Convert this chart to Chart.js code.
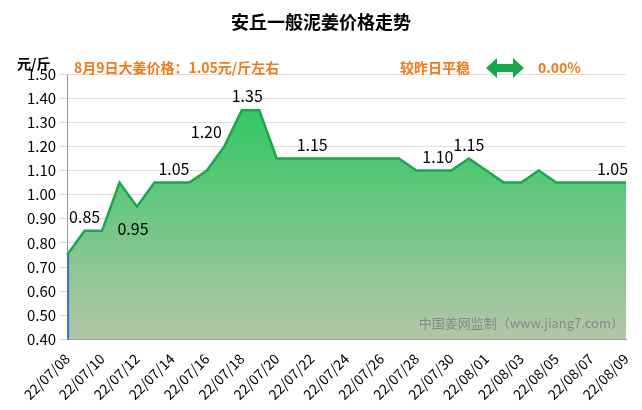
<!DOCTYPE html><html><head><meta charset="utf-8">
<script src="https://cdn.jsdelivr.net/npm/chart.js@4"></script>
<style>body{margin:0;background:#fff}#w{width:642px;height:410px;position:relative}</style></head><body>
<div id="w"><canvas id="c" width="642" height="410"></canvas></div>
<script>
const categories=["22/07/08","22/07/09","22/07/10","22/07/11","22/07/12","22/07/13","22/07/14","22/07/15","22/07/16","22/07/17","22/07/18","22/07/19","22/07/20","22/07/21","22/07/22","22/07/23","22/07/24","22/07/25","22/07/26","22/07/27","22/07/28","22/07/29","22/07/30","22/07/31","22/08/01","22/08/02","22/08/03","22/08/04","22/08/05","22/08/06","22/08/07","22/08/08","22/08/09"];
const prices=[0.75,0.85,0.85,1.05,0.95,1.05,1.05,1.05,1.10,1.20,1.35,1.35,1.15,1.15,1.15,1.15,1.15,1.15,1.15,1.15,1.10,1.10,1.10,1.15,1.10,1.05,1.05,1.10,1.05,1.05,1.05,1.05,1.05];
const labelIdx=[1,4,6,9,11,13,21,23,31];
const labelOff=[[0,-14],[-4,22],[2,-14],[-18,-14],[-12,-14],[18,-14],[4,-14],[0,-14],[4,-14]];
const deco={id:'deco',afterDatasetsDraw(ch){const x=ch.ctx,m=ch.getDatasetMeta(0),a=ch.chartArea;x.save();
x.strokeStyle='#3b6fd6';x.lineWidth=2;x.beginPath();x.moveTo(a.left+1,a.bottom);x.lineTo(a.left+1,m.data[0].y);x.stroke();
x.font='16px "Noto Sans CJK SC", sans-serif';x.fillStyle='#000';x.textAlign='center';x.textBaseline='middle';
labelIdx.forEach((i,k)=>{const p=m.data[i];x.fillText(prices[i].toFixed(2),p.x+labelOff[k][0],p.y+labelOff[k][1]);});
x.font='13px "Noto Sans CJK SC", sans-serif';x.fillStyle='#888';x.textAlign='right';x.fillText('中国姜网监制（www.jiang7.com）',a.right-2,a.bottom-16);
x.font='bold 18px "Noto Sans CJK SC", sans-serif';x.fillStyle='#000';x.textAlign='center';x.fillText('安丘一般泥姜价格走势',321,22);
x.font='bold 14px "Noto Sans CJK SC", sans-serif';x.textAlign='left';x.fillText('元/斤',17,64);
x.fillStyle='#f07a1a';x.fillText('8月9日大姜价格：1.05元/斤左右',74,68);x.fillText('较昨日平稳',400,68);x.fillText('0.00%',538,68);
x.fillStyle='#1aa64a';x.beginPath();x.moveTo(486,68);x.lineTo(497,58);x.lineTo(497,64);x.lineTo(513,64);x.lineTo(513,58);x.lineTo(524,68);x.lineTo(513,78);x.lineTo(513,72);x.lineTo(497,72);x.lineTo(497,78);x.closePath();x.fill();
x.restore();}};
new Chart(document.getElementById('c'),{type:'line',data:{labels:categories,datasets:[{data:prices,borderColor:'#17a84a',borderWidth:2.5,pointRadius:0,tension:0,fill:'start',
backgroundColor:(c)=>{const a=c.chart.chartArea;if(!a)return'#5c5';const g=c.chart.ctx.createLinearGradient(0,a.top,0,a.bottom);g.addColorStop(0,'#1ec75a');g.addColorStop(1,'#b4c6a8');return g;}}]},
options:{responsive:false,animation:false,layout:{padding:{top:74,right:16,left:24,bottom:4}},plugins:{legend:{display:false},tooltip:{enabled:false}},
scales:{x:{offset:false,grid:{display:false},border:{color:'#999'},ticks:{autoSkip:false,maxRotation:45,minRotation:45,color:'#000',font:{size:14,family:'"Noto Sans CJK SC", sans-serif'},callback:(v,i)=>i%2===0?categories[i]:''}},
y:{min:0.4,max:1.5,ticks:{stepSize:0.1,color:'#000',font:{size:15,family:'"Noto Sans CJK SC", sans-serif'},callback:v=>v.toFixed(2)},grid:{color:'#ddd'},border:{color:'#999'}}}},plugins:[deco]});
</script></body></html>
